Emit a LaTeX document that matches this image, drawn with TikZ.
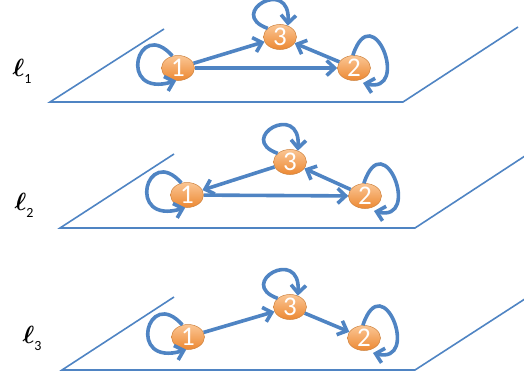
\documentclass[tikz,border=0pt]{standalone}
\usepackage{fontspec}
\usepackage{amsmath}
\newfontfamily\calfont{Carlito}
\usetikzlibrary{arrows.meta,shapes.geometric}

\definecolor{lineblue}{RGB}{79,132,195}
\definecolor{nodetop}{RGB}{251,198,148}
\definecolor{nodebot}{RGB}{236,136,50}
\definecolor{nodeline}{RGB}{205,130,62}

\tikzset{
  state/.style={ellipse, draw=nodeline, line width=0.5pt, top color=nodetop,
    bottom color=nodebot, minimum width=33pt, minimum height=25pt,
    inner sep=0pt, text=white, font=\calfont\fontsize{27}{27}\selectfont},
  edge/.style={draw=lineblue, line width=3.6pt,
    -{Straight Barb[length=8pt,width=15pt]}},
  plane/.style={draw=lineblue, line width=1.6pt},
  lab/.style={font=\fontsize{32}{34}\selectfont, inner sep=0pt},
}
\newcommand{\lsub}[1]{$\boldsymbol{\ell}$\raisebox{-7pt}{\calfont\fontsize{14}{14}\selectfont #1}}

\begin{document}
\begin{tikzpicture}[x=1pt,y=-1pt]
\useasboundingbox (0,0) rectangle (524,383);

% planes
\draw[plane] (164,29) -- (50,102) -- (403,102) -- (518,27);
\draw[plane] (174,154) -- (60,228) -- (415,228) -- (531,152);
\draw[plane] (174,297) -- (62,370) -- (415,370) -- (531,295);

% labels
\node[lab] (L1) at (22,71) {\lsub{1}};
\node[lab] (L2) at (24,205) {\lsub{2}};
\node[lab] (L3) at (32,338) {\lsub{3}};

% layer 1
\node[state] (a1) at (178,68) {1};
\node[state] (a3) at (280,37) {3};
\node[state] (a2) at (354,68) {2};
\draw[edge] (a1) -- (a3);
\draw[edge] (a1) -- (a2);
\draw[edge] (a2) -- (a3);
\draw[edge] (a1.115) .. controls +(-35,-40) and +(-60,18) .. (a1.262);
\draw[edge] (a3.145) .. controls +(-42,-15) and +(3,-50) .. (a3.55);
\draw[edge] (a2.95) .. controls +(20,-60) and +(48,12) .. ([shift={(9,15)}]a2.center);

% layer 2
\node[state] (b1) at (187,195) {1};
\node[state] (b3) at (290,162) {3};
\node[state] (b2) at (365,196) {2};
\draw[edge] (b3) -- (b1);
\draw[edge] (b1) -- (b2);
\draw[edge] (b2) -- (b3);
\draw[edge] (b1.115) .. controls +(-35,-40) and +(-60,18) .. (b1.262);
\draw[edge] (b3.145) .. controls +(-42,-15) and +(3,-50) .. (b3.55);
\draw[edge] (b2.95) .. controls +(20,-60) and +(48,12) .. ([shift={(9,15)}]b2.center);

% layer 3
\node[state] (c1) at (188,337) {1};
\node[state] (c3) at (290,307) {3};
\node[state] (c2) at (364,338) {2};
\draw[edge] (c1) -- (c3);
\draw[edge] (c3) -- (c2);
\draw[edge] (c1.115) .. controls +(-35,-40) and +(-60,18) .. (c1.262);
\draw[edge] (c3.145) .. controls +(-42,-15) and +(3,-50) .. (c3.55);
\draw[edge] (c2.95) .. controls +(20,-60) and +(48,12) .. ([shift={(9,15)}]c2.center);
\end{tikzpicture}
\end{document}
